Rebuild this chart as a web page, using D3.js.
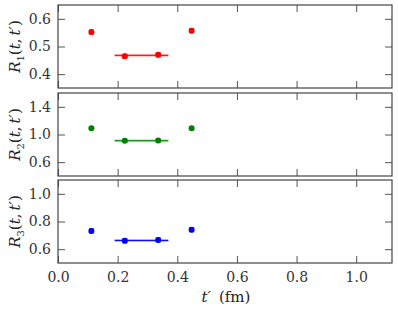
<!DOCTYPE html>
<html>
<head>
<meta charset="utf-8">
<script src="https://cdn.jsdelivr.net/npm/d3@7"></script>
<style>
  body { margin: 0; background: #fff; }
  svg text { font-family: "DejaVu Serif", serif; }
</style>
</head>
<body>
<div id="chart"></div>
<script>
// data
var tPrime = [0.112, 0.224, 0.336, 0.448];
var r1 = [0.552, 0.465, 0.470, 0.557];
var r1Err = [0.007, 0.007, 0.007, 0.007];
var r2 = [1.09, 0.91, 0.912, 1.09];
var r2Err = [0.02, 0.02, 0.02, 0.02];
var r3 = [0.732, 0.660, 0.667, 0.740];
var r3Err = [0.014, 0.014, 0.014, 0.014];
var fitRange = [0.19, 0.37];
var fitValues = [0.468, 0.910, 0.663];
var fitErrors = [0.005, 0.02, 0.01];
var xTicks = [0.0, 0.2, 0.4, 0.6, 0.8, 1.0];
var yTicks1 = [0.4, 0.5, 0.6];
var yTicks2 = [0.6, 1.0, 1.4];
var yTicks3 = [0.6, 0.8, 1.0];

var panels = [
  { vals: r1, errs: r1Err, fit: fitValues[0], fitErr: fitErrors[0], ticks: yTicks1, domain: [0.35, 0.65], color: "#ff0000", band: "#ff8080", sub: "1" },
  { vals: r2, errs: r2Err, fit: fitValues[1], fitErr: fitErrors[1], ticks: yTicks2, domain: [0.4, 1.6], color: "#008000", band: "#7fbf7f", sub: "2" },
  { vals: r3, errs: r3Err, fit: fitValues[2], fitErr: fitErrors[2], ticks: yTicks3, domain: [0.5, 1.1], color: "#0000ff", band: "#8080ff", sub: "3" }
];

var width = 398, height = 312;
var left = 58, right = 392;
var panelTops = [5, 93, 180], panelH = 83;
var tickLen = 7;

var svg = d3.select("#chart")
  .append("svg")
  .attr("width", width)
  .attr("height", height);

var x = d3.scaleLinear()
  .domain([0, 1.12])
  .range([left, right]);

panels.forEach(function(p, i) {
  var top = panelTops[i];
  var y = d3.scaleLinear()
    .domain(p.domain)
    .range([top + panelH, top]);

  var g = svg.append("g");

  // fit band and line
  g.append("rect")
    .attr("x", x(fitRange[0]))
    .attr("width", x(fitRange[1]) - x(fitRange[0]))
    .attr("y", y(p.fit + p.fitErr))
    .attr("height", Math.max(2, y(p.fit - p.fitErr) - y(p.fit + p.fitErr)))
    .attr("fill", p.band)
    .attr("opacity", 0.6);
  g.append("line")
    .attr("x1", x(fitRange[0]))
    .attr("x2", x(fitRange[1]))
    .attr("y1", y(p.fit))
    .attr("y2", y(p.fit))
    .attr("stroke", p.color)
    .attr("stroke-width", 1);

  // error bars
  var pts = tPrime.map(function(t, j) { return { t: t, v: p.vals[j], e: p.errs[j] }; });
  var eb = g.selectAll(".eb")
    .data(pts)
    .enter().append("g");
  eb.append("line")
    .attr("x1", function(d) { return x(d.t); })
    .attr("x2", function(d) { return x(d.t); })
    .attr("y1", function(d) { return y(d.v - d.e); })
    .attr("y2", function(d) { return y(d.v + d.e); })
    .attr("stroke", p.color)
    .attr("stroke-width", 1.2);
  [-1, 1].forEach(function(s) {
    eb.append("line")
      .attr("x1", function(d) { return x(d.t) - 2.5; })
      .attr("x2", function(d) { return x(d.t) + 2.5; })
      .attr("y1", function(d) { return y(d.v + s * d.e); })
      .attr("y2", function(d) { return y(d.v + s * d.e); })
      .attr("stroke", p.color)
      .attr("stroke-width", 1);
  });
  eb.append("circle")
    .attr("cx", function(d) { return x(d.t); })
    .attr("cy", function(d) { return y(d.v); })
    .attr("r", 3)
    .attr("fill", p.color);

  // axes, ticks pointing inward on all sides
  var ax = g.append("g").attr("transform", "translate(0," + (top + panelH) + ")")
    .call(d3.axisBottom(x).tickValues(xTicks).tickSizeInner(-tickLen).tickSizeOuter(0)
      .tickFormat(i == 2 ? d3.format(".1f") : ""));
  var axTop = g.append("g").attr("transform", "translate(0," + top + ")")
    .call(d3.axisTop(x).tickValues(xTicks).tickSizeInner(-tickLen).tickSizeOuter(0).tickFormat(""));
  var ayL = g.append("g").attr("transform", "translate(" + left + ",0)")
    .call(d3.axisLeft(y).tickValues(p.ticks).tickSizeInner(-tickLen).tickSizeOuter(0)
      .tickFormat(d3.format(".1f")).tickPadding(10));
  var ayR = g.append("g").attr("transform", "translate(" + right + ",0)")
    .call(d3.axisRight(y).tickValues(p.ticks).tickSizeInner(-tickLen).tickSizeOuter(0).tickFormat(""));
  [ax, axTop, ayL, ayR].forEach(function(a) {
    a.attr("font-size", 14);
    a.select(".domain").remove();
    a.selectAll(".tick line").attr("stroke", "#555").attr("stroke-width", 1);
    a.selectAll(".tick text").attr("fill", "#333");
  });
  ax.selectAll(".tick text").attr("dy", "0.8em").attr("y", 8);
  ayL.selectAll(".tick text").attr("x", -7);

  // frame
  g.append("rect")
    .attr("x", left)
    .attr("y", top)
    .attr("width", right - left)
    .attr("height", panelH)
    .attr("fill", "none")
    .attr("stroke", "#444")
    .attr("stroke-width", 1.2);

  // y label R_n(t, t')
  var lab = g.append("text")
    .attr("transform", "translate(20," + (top + panelH / 2) + ") rotate(-90)")
    .attr("text-anchor", "middle")
    .attr("font-size", 15)
    .attr("fill", "#222");
  lab.append("tspan").attr("font-style", "italic").text("R");
  lab.append("tspan").attr("font-size", 10).attr("dy", 4).text(p.sub);
  lab.append("tspan").attr("dy", -4).text("(");
  lab.append("tspan").attr("font-style", "italic").text("t");
  lab.append("tspan").text(",");
  lab.append("tspan").attr("dx", 3).attr("font-style", "italic").text("t\u2032");
  lab.append("tspan").text(")");
});

// x label
var xl = svg.append("text")
  .attr("x", 226)
  .attr("y", 302)
  .attr("text-anchor", "middle")
  .attr("font-size", 15)
  .attr("fill", "#222");
xl.append("tspan").attr("font-style", "italic").text("t\u2032");
xl.append("tspan").attr("dx", 8).text("(fm)");
</script>
</body>
</html>
